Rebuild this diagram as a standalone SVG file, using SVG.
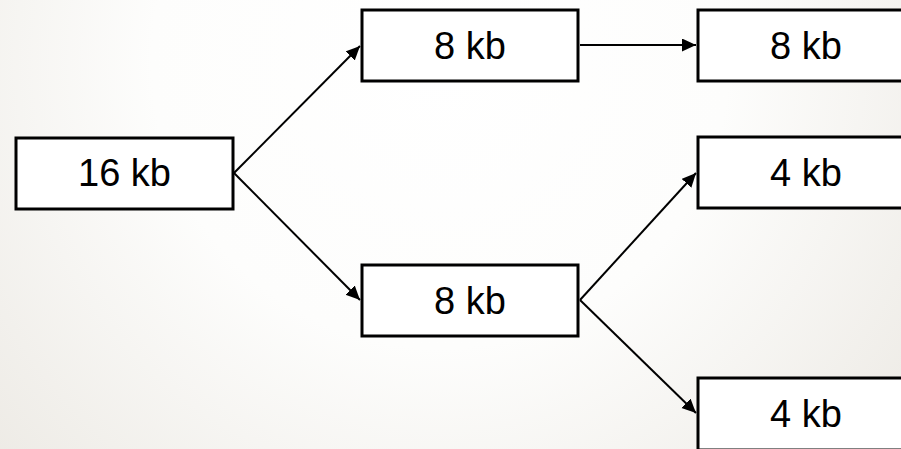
<svg xmlns="http://www.w3.org/2000/svg" width="901" height="449" viewBox="0 0 901 449">
<defs>
<radialGradient id="bg" gradientUnits="userSpaceOnUse" cx="440" cy="60" r="640">
<stop offset="0" stop-color="#ffffff"/>
<stop offset="0.45" stop-color="#fdfdfc"/>
<stop offset="1" stop-color="#ebe8e2"/>
</radialGradient>
<marker id="ah" markerUnits="userSpaceOnUse" markerWidth="16" markerHeight="14" refX="14" refY="6.5" orient="auto">
<path d="M0,0 L14,6.5 L0,13 z" fill="#000"/>
</marker>
<style>
.box{fill:#fff;stroke:#000;stroke-width:3}
.lbl{font-family:"Liberation Sans",Arial,sans-serif;font-size:38px;fill:#000;text-anchor:middle}
.conn{stroke:#000;stroke-width:2;fill:none;marker-end:url(#ah)}
</style>
</defs>
<rect width="901" height="449" fill="url(#bg)"/>
<g id="connectors">
<line class="conn" x1="234" y1="173" x2="360" y2="46"/>
<line class="conn" x1="234" y1="173" x2="360" y2="300"/>
<line class="conn" x1="580" y1="45" x2="696" y2="45"/>
<line class="conn" x1="580" y1="300" x2="696" y2="173"/>
<line class="conn" x1="580" y1="300" x2="696" y2="413"/>
</g>
<g id="n16"><rect class="box" x="16" y="138" width="217" height="71"/><text class="lbl" x="124.5" y="186">16 kb</text></g>
<g id="n8a"><rect class="box" x="362" y="10" width="216" height="71"/><text class="lbl" x="470" y="59">8 kb</text></g>
<g id="n8b"><rect class="box" x="362" y="265" width="216" height="71"/><text class="lbl" x="470" y="314">8 kb</text></g>
<g id="n8c"><rect class="box" x="698" y="10" width="217" height="71"/><text class="lbl" x="806" y="59">8 kb</text></g>
<g id="n4a"><rect class="box" x="698" y="137" width="217" height="71"/><text class="lbl" x="806" y="186">4 kb</text></g>
<g id="n4b"><rect class="box" x="698" y="378" width="217" height="72"/><text class="lbl" x="806" y="427">4 kb</text></g>
</svg>
